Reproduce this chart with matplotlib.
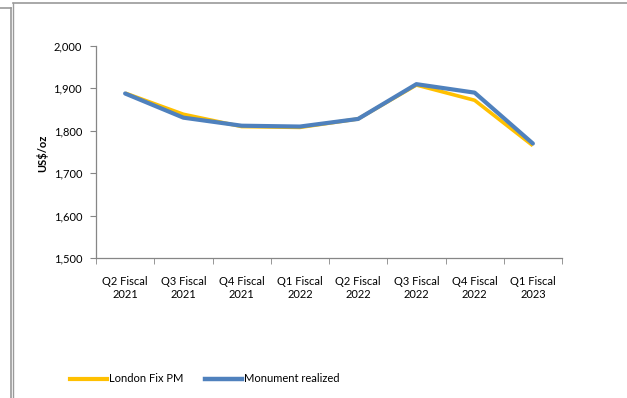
import matplotlib
matplotlib.use("Agg")
import matplotlib.pyplot as plt
from matplotlib.lines import Line2D
import numpy as np

categories = ["Q2 Fiscal\n2021", "Q3 Fiscal\n2021", "Q4 Fiscal\n2021", "Q1 Fiscal\n2022",
              "Q2 Fiscal\n2022", "Q3 Fiscal\n2022", "Q4 Fiscal\n2022", "Q1 Fiscal\n2023"]
london_fix = [1889, 1839, 1810, 1808, 1828, 1908, 1872, 1765]
monument = [1888, 1831, 1812, 1810, 1828, 1910, 1890, 1770]
yticks = [1500, 1600, 1700, 1800, 1900, 2000]

plt.rcParams['font.family'] = ['Lato', 'DejaVu Sans']

W, H = 627, 398
fig = plt.figure(figsize=(W/100, H/100), dpi=100)
ax = fig.add_axes([96/W, 1-258/H, (562-96)/W, (258-46)/H])

x = np.arange(len(categories))
ax.plot(x, london_fix, color="#FFC000", lw=2.6, solid_capstyle="butt", label="London Fix PM", zorder=2)
ax.plot(x, monument, color="#4F81BD", lw=3.0, solid_capstyle="round", label="Monument realized", zorder=3)

ax.set_xlim(-0.5, len(categories)-0.5)
ax.set_ylim(1500, 2000)
ax.set_yticks(yticks)
ax.set_yticklabels([f"{v:,}" for v in yticks])
ax.set_xticks(x)
ax.set_xticklabels(categories)
ax.set_xticks(np.arange(-0.5, len(categories)), minor=True)
ax.tick_params(axis="x", which="major", length=0, pad=13, labelsize=8, colors="#000000")
ax.tick_params(axis="x", which="minor", length=4, direction="out", color="#868686")
ax.tick_params(axis="y", length=4, direction="out", color="#868686", labelsize=8, pad=6)
for s in ["top", "right"]:
    ax.spines[s].set_visible(False)
for s in ["left", "bottom"]:
    ax.spines[s].set_color("#868686")
    ax.spines[s].set_linewidth(0.9)

fig.text(42/W, 1-153/H, "US$/oz", rotation=90, ha="center", va="center", fontsize=8, fontweight="bold")

# legend
handles = [Line2D([], [], color="#FFC000", lw=3), Line2D([], [], color="#4F81BD", lw=3.2)]
fig.legend(handles, ["London Fix PM", "Monument realized"], loc="center left",
           bbox_to_anchor=(60/W, 1-379/H), ncol=2, frameon=False, fontsize=8,
           handlelength=3.3, handletextpad=0.2, columnspacing=2.0)

# outer frame lines
gray = "#9a9a9a"
fig.add_artist(Line2D([0, 10.5/W], [1-8/H, 1-8/H], color=gray, lw=1.2, transform=fig.transFigure))
fig.add_artist(Line2D([10.5/W, 10.5/W], [1-8/H, 0], color=gray, lw=1.2, transform=fig.transFigure))
fig.add_artist(Line2D([12.5/W, 12.5/W], [1-2.5/H, 0], color=gray, lw=1.0, transform=fig.transFigure))
fig.add_artist(Line2D([12.5/W, 1], [1-2.5/H, 1-2.5/H], color=gray, lw=1.2, transform=fig.transFigure))

fig.savefig("out.png", dpi=100)
